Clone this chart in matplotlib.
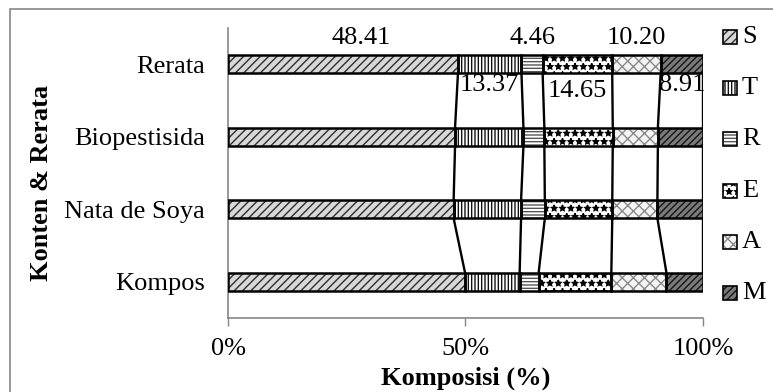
import matplotlib
matplotlib.use("Agg")
import matplotlib.pyplot as plt
from matplotlib.patches import Rectangle
import numpy as np

# ---- data ---------------------------------------------------------------
categories = ["Kompos", "Nata de Soya", "Biopestisida", "Rerata"]  # bottom -> top
series_names = ["S", "T", "R", "E", "A", "M"]
S = [49.9, 47.5, 47.8, 48.41]
T = [11.5, 14.2, 14.4, 13.37]
R = [4.0, 5.0, 4.4, 4.46]
E = [15.3, 14.2, 14.4, 14.65]
A = [11.6, 9.5, 9.5, 10.20]
M = [7.7, 9.6, 9.5, 8.91]
x_ticks = [0, 50, 100]
x_tick_labels = ["0%", "50%", "100%"]

series_values = [S, T, R, E, A, M]

# fill colour, hatch pattern, hatch colour for each series
styles = [
    ("#d8d8d8", "////", "#2e2e2e"),
    ("#ffffff", "|||||", "#111111"),
    ("#ffffff", "-----", "#555555"),
    ("#ffffff", "**", "#000000"),
    ("#f4f4f4", "xxx", "#8a8a8a"),
    ("#7a7a7a", "/////", "#151515"),
]

plt.rcParams["font.family"] = ["Liberation Serif", "DejaVu Serif"]
plt.rcParams["font.size"] = 19
plt.rcParams["hatch.linewidth"] = 1.0

W, H = 773, 392
fig = plt.figure(figsize=(W / 100, H / 100), dpi=100)


def fx(px):
    return px / W


def fy(py):
    return 1 - py / H


ax_left, ax_right, ax_top, ax_bottom = 228, 703, 28, 318
ax = fig.add_axes([fx(ax_left), fy(ax_bottom), fx(ax_right - ax_left), (ax_bottom - ax_top) / H])

ypos = np.arange(len(categories))
bar_h = 0.25
gray = "#868686"

lefts = np.zeros(len(categories))
cums = []
for vals, (fc, hatch, hc) in zip(series_values, styles):
    vals = np.asarray(vals, dtype=float)
    ax.barh(ypos, vals, left=lefts, height=bar_h, color=fc, hatch=hatch,
            edgecolor=hc, linewidth=0, zorder=2)
    ax.barh(ypos, vals, left=lefts, height=bar_h, fill=False,
            edgecolor="black", linewidth=1.8, zorder=3)
    lefts = lefts + vals
    cums.append(lefts.copy())

# series lines joining the segment ends of neighbouring bars
for c in cums:
    for k in range(len(categories) - 1):
        ax.plot([c[k], c[k + 1]], [ypos[k] + bar_h / 2, ypos[k + 1] - bar_h / 2],
                color="black", linewidth=1.7, zorder=3, solid_capstyle="butt")

# value labels on the average bar, alternating above / below
top_idx = len(categories) - 1
starts = [0.0] + [c[top_idx] for c in cums[:-1]]
for i, vals in enumerate(series_values):
    v = vals[top_idx]
    cx = starts[i] + v / 2
    if i % 2 == 0:
        dx = 13 if i == 0 else 0
        ax.annotate(f"{v:.2f}", xy=(cx, ypos[top_idx] + bar_h / 2), xytext=(dx, 8),
                    textcoords="offset points", ha="center", va="baseline",
                    annotation_clip=False)
    else:
        dy = -4.5 if series_names[i] == "E" else -0.5
        ax.annotate(f"{v:.2f}", xy=(cx, ypos[top_idx] - bar_h / 2), xytext=(0, dy),
                    textcoords="offset points", ha="center", va="top",
                    annotation_clip=False)

# axes styling
ax.set_xlim(0, 100)
ax.set_ylim(-0.5, len(categories) - 0.5)
ax.set_yticks(ypos, categories)
ax.set_xticks(x_ticks, x_tick_labels)
ax.tick_params(axis="y", length=0, pad=16.5)
ax.tick_params(axis="x", length=5.5, width=1, color=gray, pad=9)
for side in ("top", "right"):
    ax.spines[side].set_visible(False)
for side in ("left", "bottom"):
    ax.spines[side].set_color(gray)
    ax.spines[side].set_linewidth(1.2)

ax.set_xlabel("Komposisi (%)", fontweight="bold")
ax.xaxis.label.set_va("center")
ax.xaxis.set_label_coords(0.5, (ax_bottom - 378) / (ax_bottom - ax_top))
ax.set_ylabel("Konten & Rerata", fontweight="bold")
ax.yaxis.label.set_va("center")
ax.yaxis.set_label_coords((41 - ax_left) / (ax_right - ax_left),
                          1 - (183 - ax_top) / (ax_bottom - ax_top))

# legend entries stacked down the right margin
for i, (name, (fc, hatch, hc)) in enumerate(zip(series_names, styles)):
    yc = 37 + 51.2 * i
    box = (fx(723), fy(yc + 7))
    bw, bh = 14 / W, 14 / H
    fig.add_artist(Rectangle(box, bw, bh, transform=fig.transFigure, facecolor=fc,
                             hatch=hatch, edgecolor=hc, linewidth=0))
    fig.add_artist(Rectangle(box, bw, bh, transform=fig.transFigure, fill=False,
                             edgecolor="black", linewidth=1.2))
    fig.text(fx(742), fy(yc), name, ha="left", va="center")

# chart frame
fig.add_artist(Rectangle((fx(10), fy(H + 20)), fx(W + 20), (H + 20 - 9) / H,
                         transform=fig.transFigure, fill=False,
                         edgecolor=gray, linewidth=1.2))

fig.savefig("out.png", dpi=100)
